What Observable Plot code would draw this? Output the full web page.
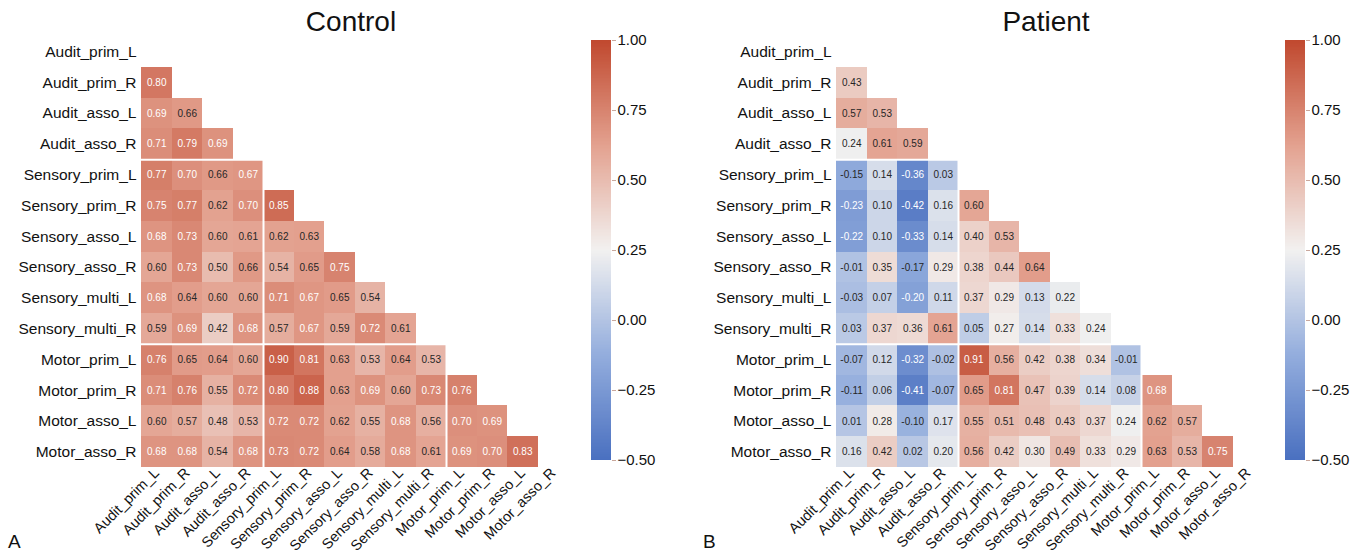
<!DOCTYPE html>
<html><head><meta charset="utf-8">
<script src="https://cdn.jsdelivr.net/npm/d3@7"></script>
<script src="https://cdn.jsdelivr.net/npm/@observablehq/plot@0.6"></script>
<style>
html,body{margin:0;padding:0;background:#fff}
#root{position:relative;width:1361px;height:556px;overflow:hidden;font-family:"Liberation Sans",Arial,sans-serif;color:#111}
.abs{position:absolute}
.title{font-size:28px;width:400px;text-align:center}
.letter{font-size:19px}
</style></head><body><div id="root"></div>
<script>
const regions = ["Audit_prim_L","Audit_prim_R","Audit_asso_L","Audit_asso_R","Sensory_prim_L","Sensory_prim_R","Sensory_asso_L","Sensory_asso_R","Sensory_multi_L","Sensory_multi_R","Motor_prim_L","Motor_prim_R","Motor_asso_L","Motor_asso_R"];

const controlValues = [
  [],
  [0.80],
  [0.69, 0.66],
  [0.71, 0.79, 0.69],
  [0.77, 0.70, 0.66, 0.67],
  [0.75, 0.77, 0.62, 0.70, 0.85],
  [0.68, 0.73, 0.60, 0.61, 0.62, 0.63],
  [0.60, 0.73, 0.50, 0.66, 0.54, 0.65, 0.75],
  [0.68, 0.64, 0.60, 0.60, 0.71, 0.67, 0.65, 0.54],
  [0.59, 0.69, 0.42, 0.68, 0.57, 0.67, 0.59, 0.72, 0.61],
  [0.76, 0.65, 0.64, 0.60, 0.90, 0.81, 0.63, 0.53, 0.64, 0.53],
  [0.71, 0.76, 0.55, 0.72, 0.80, 0.88, 0.63, 0.69, 0.60, 0.73, 0.76],
  [0.60, 0.57, 0.48, 0.53, 0.72, 0.72, 0.62, 0.55, 0.68, 0.56, 0.70, 0.69],
  [0.68, 0.68, 0.54, 0.68, 0.73, 0.72, 0.64, 0.58, 0.68, 0.61, 0.69, 0.70, 0.83]
];

const patientValues = [
  [],
  [0.43],
  [0.57, 0.53],
  [0.24, 0.61, 0.59],
  [-0.15, 0.14, -0.36, 0.03],
  [-0.23, 0.10, -0.42, 0.16, 0.60],
  [-0.22, 0.10, -0.33, 0.14, 0.40, 0.53],
  [-0.01, 0.35, -0.17, 0.29, 0.38, 0.44, 0.64],
  [-0.03, 0.07, -0.20, 0.11, 0.37, 0.29, 0.13, 0.22],
  [0.03, 0.37, 0.36, 0.61, 0.05, 0.27, 0.14, 0.33, 0.24],
  [-0.07, 0.12, -0.32, -0.02, 0.91, 0.56, 0.42, 0.38, 0.34, -0.01],
  [-0.11, 0.06, -0.41, -0.07, 0.65, 0.81, 0.47, 0.39, 0.14, 0.08, 0.68],
  [0.01, 0.28, -0.10, 0.17, 0.55, 0.51, 0.48, 0.43, 0.37, 0.24, 0.62, 0.57],
  [0.16, 0.42, 0.02, 0.20, 0.56, 0.42, 0.30, 0.49, 0.33, 0.29, 0.63, 0.53, 0.75]
];

const groupBreaks = [4, 10];
const colorTicks = [1, 0.75, 0.5, 0.25, 0, -0.25, -0.5];
const colorDomain = [-0.5, -0.125, 0.25, 0.625, 1];
const colorRange = ["#4a70c0", "#93addd", "#f2f1f0", "#e3a18f", "#c0482e"];
// annotation text turns white beyond these values (as in the reference)
const whiteTextAbove = 0.665;
const whiteTextBelow = -0.185;

const colorScale = {type: "linear", domain: colorDomain, range: colorRange, interpolate: "rgb"};
const isDark = d => d.v >= whiteTextAbove || d.v <= whiteTextBelow;

const root = document.getElementById("root");
function place(el, left, top) {
  el.classList.add("abs");
  el.style.left = left + "px";
  el.style.top = top + "px";
  root.appendChild(el);
}

const baseStyle = {fontFamily: "Liberation Sans, Arial, sans-serif", fontSize: "15.5px", color: "#111", background: "transparent"};

function heatmap(values) {
  const n = regions.length;
  const data = [];
  values.forEach((row, i) => row.forEach((v, j) => data.push({row: i, col: j, v})));
  const centers = d3.range(n).map(i => i + 0.5);
  const fmt = t => regions[Math.round(t - 0.5)];
  return Plot.plot({
    width: 572, height: 556,
    marginLeft: 141, marginRight: 4, marginTop: 36, marginBottom: 89,
    style: baseStyle,
    x: {domain: [0, n], axis: null},
    y: {domain: [0, n], reverse: true, axis: null},
    color: colorScale,
    marks: [
      Plot.rect(data, {x1: "col", x2: d => d.col + 1, y1: "row", y2: d => d.row + 1, fill: "v", shapeRendering: "crispEdges"}),
      Plot.ruleX(groupBreaks, {stroke: "white", strokeWidth: 2}),
      Plot.ruleY(groupBreaks, {stroke: "white", strokeWidth: 2}),
      Plot.text(data, {filter: d => !isDark(d), x: d => d.col + 0.5, y: d => d.row + 0.5, text: d => d.v.toFixed(2), fill: "#262626", fontSize: 10}),
      Plot.text(data, {filter: isDark, x: d => d.col + 0.5, y: d => d.row + 0.5, text: d => d.v.toFixed(2), fill: "white", fontSize: 10}),
      Plot.axisX({ticks: centers, tickFormat: fmt, tickRotate: -45, tickSize: 0, tickPadding: 3, label: null, fontSize: 14.5}),
      Plot.axisY({ticks: centers, tickFormat: fmt, tickSize: 0, tickPadding: 5, label: null, fontSize: 15.5})
    ]
  });
}

function colorbar() {
  const steps = d3.range(0, 300).map(i => -0.5 + i * 0.005);
  return Plot.plot({
    width: 80, height: 556,
    marginLeft: 0, marginRight: 60, marginTop: 40, marginBottom: 96,
    style: baseStyle,
    x: {domain: [0, 1], axis: null},
    y: {domain: [-0.5, 1]},
    color: colorScale,
    marks: [
      Plot.rect(steps, {x1: 0, x2: 1, y1: d => d, y2: d => d + 0.0055, fill: d => d + 0.0025, shapeRendering: "crispEdges"}),
      Plot.axisY({anchor: "right", ticks: colorTicks, tickFormat: d3.format(".2f"), tickSize: 4, tickPadding: 2, stroke: "#c9a79c", label: null, fontSize: 15})
    ]
  });
}

function addText(txt, cls, left, top) {
  const d = document.createElement("div");
  d.className = cls;
  d.textContent = txt;
  place(d, left, top);
}

place(heatmap(controlValues), 0, 0);
place(colorbar(), 591, 0);
place(heatmap(patientValues), 695, 0);
place(colorbar(), 1285, 0);
addText("Control", "title", 151, 6);
addText("Patient", "title", 846, 6);
addText("A", "letter", 8, 531);
addText("B", "letter", 703, 531);
</script>
</body></html>
